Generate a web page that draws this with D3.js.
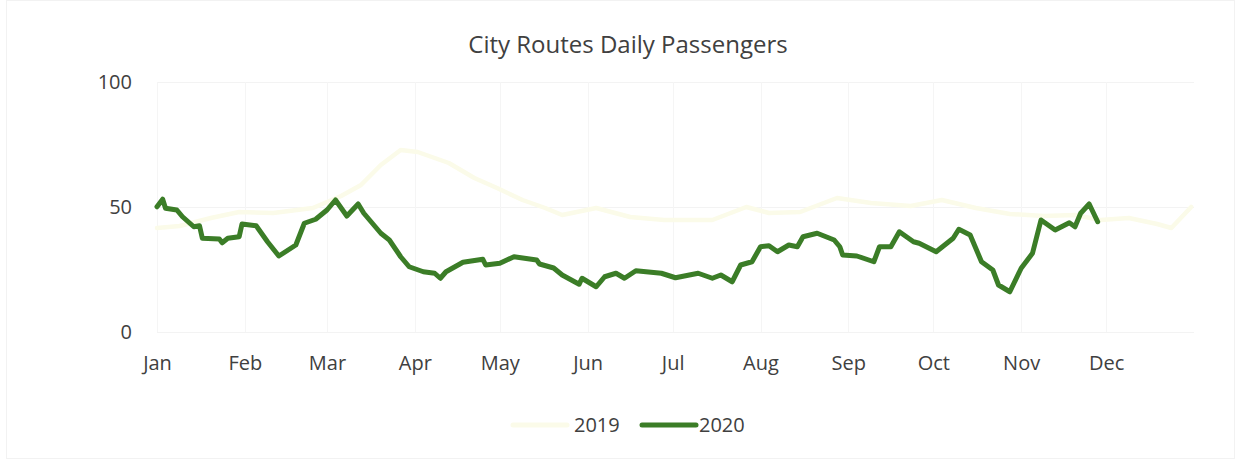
<!DOCTYPE html>
<html>
<head>
<meta charset="utf-8">
<script src="https://cdn.jsdelivr.net/npm/d3@7"></script>
<style>
  body { margin: 0; background: #fff; }
  text { font-family: "Open Sans", "Noto Sans", sans-serif; }
</style>
</head>
<body>
<svg></svg>
<script>
// month labels on the x axis
var months = ["Jan", "Feb", "Mar", "Apr", "May", "Jun", "Jul", "Aug", "Sep", "Oct", "Nov", "Dec"];
var yTicks = [0, 50, 100];
var seriesNames = ["2019", "2020"];

// 2019 series: day of year, passengers
var days2019 = [0, 8, 19, 29, 41, 55, 65, 72, 79, 86, 92, 103, 112, 120, 129, 137, 143, 155, 167, 179,
  196, 208, 216, 227, 240, 252, 266, 277, 289, 301, 313, 324, 333, 343, 353, 358, 365];
var values2019 = [41.6, 42.4, 45.6, 48, 47.6, 49.6, 54.4, 58.8, 66.8, 72.8, 72, 67.6, 61.6, 57.6, 52.8, 49.6, 46.8, 49.6, 46, 44.8,
  44.8, 50, 47.6, 48, 53.6, 51.6, 50.4, 52.8, 49.6, 47.2, 46.4, 46.8, 44.8, 45.6, 43.2, 41.6, 50];

// 2020 series: day of year, passengers
var days2020 = [0, 2, 3, 7, 9, 13, 15, 16, 22, 23, 25, 29, 30, 35, 39, 43, 49, 52, 56, 60,
  63, 67, 71, 73, 76, 79, 82, 86, 89, 94, 98, 100, 102, 108, 115, 116, 121, 126, 134, 135,
  140, 143, 149, 150, 155, 158, 162, 165, 169, 178, 183, 191, 196, 199, 203, 206, 210, 213, 216, 219,
  223, 226, 228, 233, 239, 241, 242, 247, 253, 255, 259, 262, 267, 269, 275, 281, 283, 287, 291, 295,
  297, 301, 305, 309, 312, 317, 322, 324, 326, 329, 332];
var values2020 = [50.1, 53.1, 49.5, 48.8, 46.1, 42.1, 42.5, 37.5, 37.2, 35.7, 37.5, 38.1, 43.2, 42.5, 36.1, 30.4, 34.8, 43.5, 45.1, 48.8,
  52.8, 46.4, 51.2, 47.5, 43.5, 39.5, 36.8, 30.1, 26.1, 24.1, 23.5, 21.5, 24.1, 27.9, 29.1, 26.8, 27.5, 30.1, 28.8, 27.2,
  25.6, 22.8, 19.1, 21.5, 18.1, 22.1, 23.5, 21.5, 24.5, 23.5, 21.7, 23.5, 21.5, 22.8, 20.1, 26.8, 28.1, 34.1, 34.5, 32.1,
  34.8, 34.1, 38.1, 39.5, 36.8, 34.1, 30.8, 30.4, 28.1, 34.1, 34.1, 40.1, 36.1, 35.5, 32.1, 37.5, 41.1, 38.8, 28.1, 24.8,
  18.8, 16.1, 25.5, 31.5, 44.8, 40.8, 43.7, 42.1, 47.5, 51.2, 44.1];

var colors = ["#fbfbe9", "#3b7d27"];

var svgWidth = 1241;
var svgHeight = 459;

var svg = d3.select("svg")
  .attr("width", svgWidth)
  .attr("height", svgHeight);

// faint chart border
svg.append("rect")
  .attr("x", 6.5).attr("y", 0.5)
  .attr("width", svgWidth - 13).attr("height", svgHeight - 1)
  .attr("fill", "none")
  .attr("stroke", "#f2f2f2");

var start = new Date(2020, 0, 1);
function dayToDate(d) { return d3.timeDay.offset(start, d); }

var x = d3.scaleTime()
  .domain([start, new Date(2021, 0, 1)])
  .range([157, 1194]);

var y = d3.scaleLinear()
  .domain([0, 100])
  .range([332, 82]);

var monthDates = months.map(function(m, i) { return new Date(2020, i, 1); });

// grid
svg.append("g")
  .selectAll("line")
  .data(yTicks)
  .enter()
  .append("line")
  .attr("x1", 157).attr("x2", 1194)
  .attr("y1", function(d) { return y(d) + 0.5; })
  .attr("y2", function(d) { return y(d) + 0.5; })
  .attr("stroke", "#f3f3f3");

svg.append("g")
  .selectAll("line")
  .data(monthDates)
  .enter()
  .append("line")
  .attr("x1", function(d) { return Math.round(x(d)) + 0.5; })
  .attr("x2", function(d) { return Math.round(x(d)) + 0.5; })
  .attr("y1", y(100)).attr("y2", y(0))
  .attr("stroke", "#f5f5f5");

// y axis
var yAxis = svg.append("g")
  .attr("transform", "translate(140,0)")
  .call(d3.axisLeft(y).tickValues(yTicks).tickSize(0).tickPadding(8));
yAxis.select(".domain").remove();
yAxis.selectAll("text")
  .attr("font-size", 20)
  .attr("fill", "#404040")
  .style("font-family", "'Open Sans', sans-serif");

// x axis
var xAxis = svg.append("g")
  .attr("transform", "translate(0," + (y(0)) + ")")
  .call(d3.axisBottom(x).tickValues(monthDates)
    .tickFormat(function(d, i) { return months[i]; })
    .tickSize(0).tickPadding(24));
xAxis.select(".domain").remove();
xAxis.selectAll("text")
  .attr("font-size", 20)
  .attr("fill", "#404040")
  .style("font-family", "'Open Sans', sans-serif");

// lines
var line = d3.line()
  .x(function(d) { return x(d[0]); })
  .y(function(d) { return y(d[1]); })
  .curve(d3.curveLinear);

var data2019 = days2019.map(function(d, i) { return [dayToDate(d), values2019[i]]; });
var data2020 = days2020.map(function(d, i) { return [dayToDate(d), values2020[i]]; });

svg.append("path")
  .datum(data2019)
  .attr("d", line)
  .attr("fill", "none")
  .attr("stroke", colors[0])
  .attr("stroke-width", 4.5)
  .attr("stroke-linejoin", "round")
  .attr("stroke-linecap", "round");

svg.append("path")
  .datum(data2020)
  .attr("d", line)
  .attr("fill", "none")
  .attr("stroke", colors[1])
  .attr("stroke-width", 5)
  .attr("stroke-linejoin", "round")
  .attr("stroke-linecap", "round");

// title
svg.append("text")
  .attr("x", 628)
  .attr("y", 53)
  .attr("text-anchor", "middle")
  .attr("font-size", 24)
  .attr("fill", "#404040")
  .text("City Routes Daily Passengers");

// legend
var legendX = [513, 642];
var legend = svg.selectAll(".legend")
  .data(seriesNames)
  .enter()
  .append("g")
  .attr("class", "legend")
  .attr("transform", function(d, i) { return "translate(" + legendX[i] + ",425)"; });

legend.append("line")
  .attr("x1", 0).attr("x2", 54)
  .attr("stroke", function(d, i) { return colors[i]; })
  .attr("stroke-width", 5)
  .attr("stroke-linecap", "round");

legend.append("text")
  .attr("x", function(d, i) { return i === 0 ? 61 : 57; })
  .attr("y", 7)
  .attr("font-size", 20)
  .attr("fill", "#404040")
  .text(function(d) { return d; });
</script>
</body>
</html>
